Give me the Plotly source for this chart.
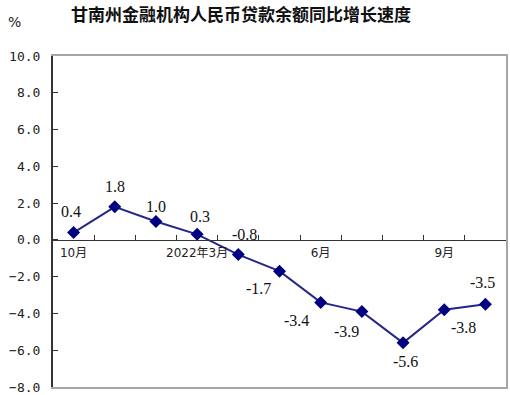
import plotly.graph_objects as go

# ---- data ----
labels = ["10月", "", "", "2022年3月", "", "", "6月", "", "", "9月", ""]
values = [0.4, 1.8, 1.0, 0.3, -0.8, -1.7, -3.4, -3.9, -5.6, -3.8, -3.5]
value_text = ["0.4", "1.8", "1.0", "0.3", "-0.8", "-1.7", "-3.4", "-3.9", "-5.6", "-3.8", "-3.5"]
y_ticks = [10, 8, 6, 4, 2, 0, -2, -4, -6, -8]

# label offsets (style): px shifts from each point
label_dx = [-3, 0, 0, 3, 6, -21, -24, -15, 2, 19, -3]
label_dy = [21, 20, 15, 18, 20, -17, -18, -20, -19, -18, 22]

n = len(values)
xs = list(range(n))
YMIN, YMAX = -8, 10

L, R, T, B = 53, 4, 56, 8
W, H = 510, 395
PW, PH = W - L - R, H - T - B

fig = go.Figure()
fig.add_trace(go.Scatter(
    x=xs, y=values, mode="lines+markers",
    line=dict(color="#26268a", width=2),
    marker=dict(symbol="diamond", size=10, color="#000080"),
    hoverinfo="skip", showlegend=False,
))

for i in range(n):
    fig.add_annotation(
        x=xs[i], y=values[i], text=value_text[i], showarrow=False,
        xshift=label_dx[i], yshift=label_dy[i],
        font=dict(family="Liberation Serif", size=16, color="#111111"),
    )

zero_pos = (0 - YMIN) / (YMAX - YMIN)

fig.update_layout(
    width=W, height=H,
    margin=dict(l=L, r=R, t=T, b=B, autoexpand=False),
    paper_bgcolor="white", plot_bgcolor="white",
    xaxis=dict(range=[-0.5, n - 0.5], showgrid=False, zeroline=False, automargin=False,
               showticklabels=False, showline=True, linecolor="#a6a6a6",
               linewidth=2, mirror=True, ticks=""),
    xaxis2=dict(overlaying="x", anchor="free", position=zero_pos, automargin=False,
                range=[-0.5, n - 0.5], showgrid=False, zeroline=False,
                showline=True, linecolor="#333333", linewidth=1,
                ticks="inside", ticklen=5, tickcolor="#333333",
                tickvals=[i + 0.5 for i in range(n - 1)],
                showticklabels=False),
    xaxis3=dict(overlaying="x", anchor="free", position=zero_pos, automargin=False,
                range=[-0.5, n - 0.5], showgrid=False, zeroline=False,
                showline=False, ticks="", ticklabelstandoff=4,
                tickvals=xs, ticktext=labels,
                tickfont=dict(family="DejaVu Sans, Noto Sans CJK SC", size=12, color="#222222")),
    yaxis=dict(range=[YMIN, YMAX], tickvals=y_ticks, tickformat=".1f", automargin=False,
               showgrid=False, zeroline=False,
               showline=True, linecolor="#333333", linewidth=2,
               ticks="inside", ticklen=5, tickcolor="#333333",
               ticklabelstandoff=8,
               tickfont=dict(family="DejaVu Sans Mono", size=13, color="#222222")),
    yaxis2=dict(overlaying="y", side="right", range=[YMIN, YMAX], automargin=False,
                showgrid=False, zeroline=False, showticklabels=False,
                showline=True, linecolor="#a6a6a6", linewidth=2, ticks=""),
)

fig.add_annotation(text="<b>甘南州金融机构人民币贷款余额同比增长速度</b>", xref="paper", yref="paper",
                   x=(241 - L) / PW, y=1 + (T - 14) / PH, showarrow=False,
                   xanchor="center", yanchor="middle",
                   font=dict(family="Noto Sans CJK SC", size=17, color="#111111"))
fig.add_annotation(text="%", xref="paper", yref="paper", x=(14 - L) / PW, y=1 + (T - 22) / PH,
                   showarrow=False, xanchor="center", yanchor="middle",
                   font=dict(family="DejaVu Sans", size=14, color="#222222"))

# dummy traces to activate helper axes
fig.add_trace(go.Scatter(x=[None], y=[None], xaxis="x2", yaxis="y2", showlegend=False, hoverinfo="skip"))
fig.add_trace(go.Scatter(x=[None], y=[None], xaxis="x3", yaxis="y", showlegend=False, hoverinfo="skip"))

fig.write_html("out.html", config={"displayModeBar": False},
               post_script="document.body.style.margin='0';document.body.style.overflow='hidden';")
